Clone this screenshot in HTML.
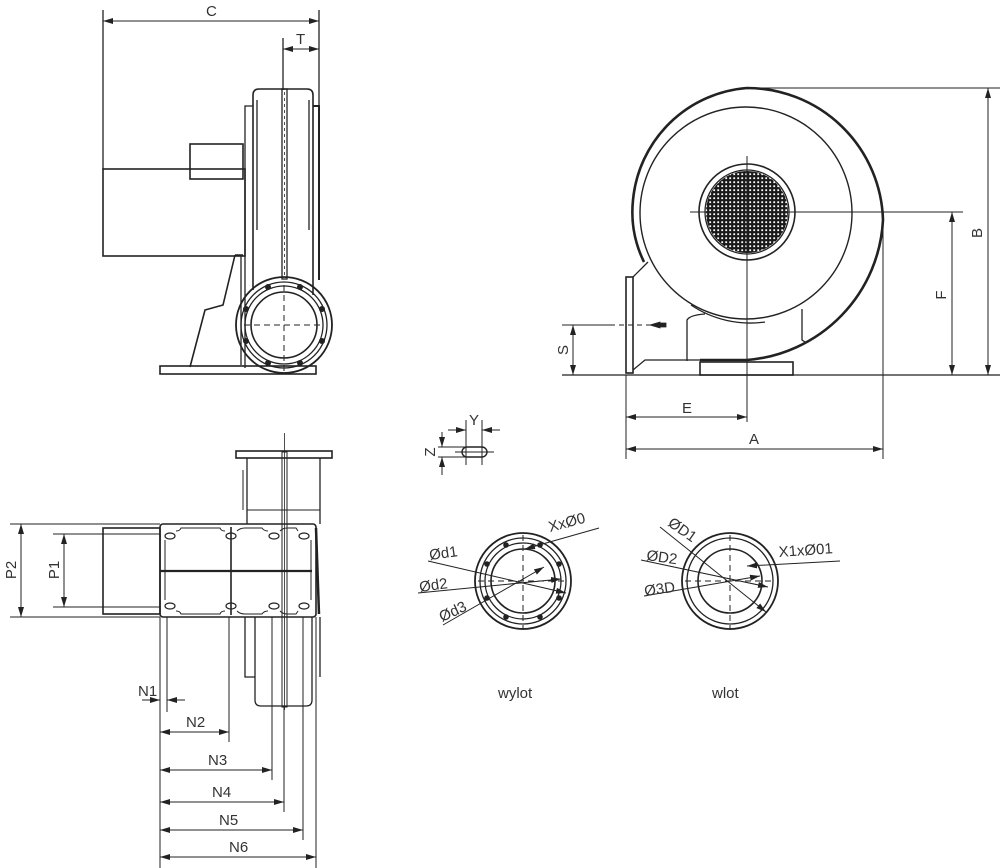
<!DOCTYPE html>
<html><head><meta charset="utf-8"><style>
html,body{margin:0;padding:0;background:#fff;}
svg{display:block;}
text{font-family:"Liberation Sans",sans-serif;font-size:15px;fill:#333;}
</style></head><body>
<svg width="1000" height="868" viewBox="0 0 1000 868" xmlns="http://www.w3.org/2000/svg">
<defs>
<marker id="ar" viewBox="0 0 10 6" refX="10" refY="3" markerWidth="10" markerHeight="6" orient="auto-start-reverse" markerUnits="userSpaceOnUse"><path d="M0,0 L10,3 L0,6 z" fill="#222"/></marker>
<pattern id="mesh" width="4" height="4" patternUnits="userSpaceOnUse"><rect width="4" height="4" fill="#1a1a1a"/><rect x="1.3" y="1.3" width="1.8" height="1.8" fill="#fff"/></pattern>
<clipPath id="gc"><circle cx="747" cy="212" r="41"/></clipPath>
</defs>
<g fill="none" stroke="#222" stroke-width="1.3">

<!-- ===== TOP LEFT VIEW ===== -->
<line x1="103" y1="10" x2="103" y2="170"/>
<line x1="319" y1="10" x2="319" y2="106"/>
<line x1="103" y1="21" x2="319" y2="21" marker-start="url(#ar)" marker-end="url(#ar)" stroke-width="1"/>
<line x1="283" y1="38" x2="283" y2="90"/>
<line x1="283" y1="49" x2="319" y2="49" marker-start="url(#ar)" marker-end="url(#ar)" stroke-width="1"/>
<rect x="103" y="169" width="142" height="87" stroke-width="1.6"/>
<rect x="190" y="144" width="53" height="35" stroke-width="1.6"/>
<path d="M253 290 L253 95 Q253 89 259 89 L307 89 Q313 89 313 95 L313 295" stroke-width="1.6"/>
<path d="M253 106 L245 106 L245 368" />
<path d="M313 106 L319 106 L319 280" stroke-width="2"/>
<line x1="257" y1="100" x2="257" y2="230"/>
<line x1="309" y1="100" x2="309" y2="230"/>
<rect x="282" y="89" width="5" height="190"/>
<line x1="284.5" y1="92" x2="284.5" y2="278" stroke-dasharray="3 3" stroke-width="0.8"/>
<line x1="241" y1="256" x2="241" y2="365"/>
<path d="M235 255 L243 255 M235 255 L223 305 L205 310 L190 367" stroke-width="1.6"/>
<rect x="160" y="366" width="156" height="8" stroke-width="1.6"/>
<circle cx="284" cy="325" r="48" stroke-width="1.8"/>
<circle cx="284" cy="325" r="43"/>
<circle cx="284" cy="325" r="39"/>
<circle cx="284" cy="325" r="33" stroke-width="1.6"/>
<line x1="244" y1="325" x2="324" y2="325" stroke-dasharray="6 4" stroke-width="1"/>
<line x1="284" y1="285" x2="284" y2="374" stroke-dasharray="6 4" stroke-width="1"/>
<g fill="#222" stroke="none">
<circle cx="268" cy="287" r="3"/><circle cx="300" cy="287" r="3"/><circle cx="246" cy="309" r="3"/><circle cx="322" cy="309" r="3"/>
<circle cx="246" cy="341" r="3"/><circle cx="322" cy="341" r="3"/><circle cx="268" cy="363" r="3"/><circle cx="300" cy="363" r="3"/>
</g>

<!-- ===== TOP RIGHT VIEW ===== -->
<path d="M700 360 L747 360 A148 148 0 0 0 883 220 A136 136 0 0 0 747 88 A124 124 0 0 0 633 200 A114 114 0 0 0 644 262" stroke-width="2.6"/>
<circle cx="746" cy="213" r="106" stroke-width="1.4"/>
<path d="M691 305 A106 106 0 0 0 765 322" />
<path d="M648 262 L633 277"/>
<rect x="626" y="277" width="7" height="96" stroke-width="1.6"/>
<path d="M633 370 L645 360 L700 360"/>
<path d="M687 361 L687 320 Q690 315 705 314"/>
<path d="M802 309 L802 340 L805 342"/>
<rect x="700" y="362" width="93" height="13" stroke-width="1.6"/>
<circle cx="747" cy="212" r="48" stroke-width="1.6"/>
<circle cx="747" cy="212" r="42"/>
<rect x="700" y="165" width="94" height="94" fill="url(#mesh)" stroke="none" clip-path="url(#gc)"/>
<line x1="690" y1="212" x2="963" y2="212" stroke-width="1"/>
<line x1="747" y1="156" x2="747" y2="422" stroke-width="1"/>
<line x1="562" y1="375" x2="1000" y2="375" stroke-width="1.2"/>
<line x1="747" y1="88" x2="1000" y2="88" stroke-width="1"/>
<line x1="988" y1="88" x2="988" y2="375" marker-start="url(#ar)" marker-end="url(#ar)" stroke-width="1"/>
<line x1="952" y1="212" x2="952" y2="375" marker-start="url(#ar)" marker-end="url(#ar)" stroke-width="1"/>
<line x1="562" y1="325" x2="610" y2="325" stroke-width="1"/>
<line x1="610" y1="325" x2="660" y2="325" stroke-dasharray="5 4" stroke-width="1"/>
<path d="M650 325 L660 322 L660 328 z M660 323 L666 323 L666 327 L660 327" fill="#222" stroke-width="0.8"/>
<line x1="573" y1="325" x2="573" y2="375" marker-start="url(#ar)" marker-end="url(#ar)" stroke-width="1"/>
<line x1="626" y1="375" x2="626" y2="459" stroke-width="1"/>
<line x1="883" y1="213" x2="883" y2="459" stroke-width="1"/>
<line x1="626" y1="417" x2="747" y2="417" marker-start="url(#ar)" marker-end="url(#ar)" stroke-width="1"/>
<line x1="626" y1="449" x2="883" y2="449" marker-start="url(#ar)" marker-end="url(#ar)" stroke-width="1"/>

<!-- ===== BOTTOM LEFT VIEW ===== -->
<line x1="10" y1="524" x2="160" y2="524" stroke-width="1"/>
<line x1="10" y1="617" x2="160" y2="617" stroke-width="1"/>
<line x1="21" y1="524" x2="21" y2="617" marker-start="url(#ar)" marker-end="url(#ar)" stroke-width="1"/>
<line x1="53" y1="534" x2="160" y2="534" stroke-width="1"/>
<line x1="53" y1="607" x2="160" y2="607" stroke-width="1"/>
<line x1="64" y1="534" x2="64" y2="607" marker-start="url(#ar)" marker-end="url(#ar)" stroke-width="1"/>
<rect x="103" y="528" width="57" height="86" stroke-width="1.6"/>
<rect x="236" y="451" width="96" height="7" stroke-width="1.6"/>
<path d="M247 458 L247 524 M320 458 L320 524"/>
<line x1="243" y1="470" x2="243" y2="510" stroke-width="1"/>
<line x1="247" y1="510" x2="320" y2="510" stroke-width="1"/>
<rect x="160" y="524" width="156" height="93" rx="3" stroke-width="1.6"/>
<path d="M165 540 L165 600 M311 540 L311 600" stroke-width="1"/>
<path d="M176 531 Q180 531 181 528 L220 528 Q221 531 225 531 M237 531 Q240 528 245 528 L262 528 Q264 531 268 531 M280 531 Q283 528 287 528 L296 528 L298 531 M176 611 Q180 611 181 614 L220 614 Q221 611 225 611 M237 611 Q240 614 245 614 L262 614 Q264 611 268 611 M280 611 Q283 614 287 614 L296 614 L298 611" stroke-width="1"/>
<line x1="316" y1="528" x2="319" y2="614" stroke-width="2.5"/>
<line x1="160" y1="571" x2="312" y2="571" stroke-width="2.2"/>
<line x1="231" y1="527" x2="231" y2="615" stroke-width="1.6"/>
<path d="M245 617 L245 677 L255 677 M320 617 L320 677"/>
<path d="M255 617 L255 700 Q255 706 261 706 L306 706 Q312 706 312 700 L312 617"/>
<rect x="282" y="452" width="5" height="255" stroke-width="1"/>
<line x1="284.5" y1="433" x2="284.5" y2="710" stroke-width="0.8"/>
<g stroke-width="1.2">
<ellipse cx="170" cy="536" rx="5" ry="3"/><ellipse cx="231" cy="536" rx="5" ry="3"/><ellipse cx="274" cy="536" rx="5" ry="3"/><ellipse cx="304" cy="536" rx="5" ry="3"/>
<ellipse cx="170" cy="606" rx="5" ry="3"/><ellipse cx="231" cy="606" rx="5" ry="3"/><ellipse cx="274" cy="606" rx="5" ry="3"/><ellipse cx="304" cy="606" rx="5" ry="3"/>
</g>
<g stroke-width="1">
<line x1="160" y1="617" x2="160" y2="868"/>
<line x1="167" y1="617" x2="167" y2="712"/>
<line x1="229" y1="617" x2="229" y2="742"/>
<line x1="272" y1="617" x2="272" y2="780"/>
<line x1="284" y1="706" x2="284" y2="812"/>
<line x1="303" y1="617" x2="303" y2="840"/>
<line x1="316" y1="617" x2="316" y2="868"/>
<line x1="142" y1="700" x2="160" y2="700" marker-end="url(#ar)"/>
<line x1="185" y1="700" x2="167" y2="700" marker-end="url(#ar)"/>
<line x1="160" y1="732" x2="229" y2="732" marker-start="url(#ar)" marker-end="url(#ar)"/>
<line x1="160" y1="770" x2="272" y2="770" marker-start="url(#ar)" marker-end="url(#ar)"/>
<line x1="160" y1="802" x2="284" y2="802" marker-start="url(#ar)" marker-end="url(#ar)"/>
<line x1="160" y1="830" x2="303" y2="830" marker-start="url(#ar)" marker-end="url(#ar)"/>
<line x1="160" y1="857" x2="316" y2="857" marker-start="url(#ar)" marker-end="url(#ar)"/>
</g>

<!-- ===== SLOT ===== -->
<g stroke-width="1">
<line x1="466" y1="420" x2="466" y2="465"/>
<line x1="482" y1="420" x2="482" y2="465"/>
<line x1="448" y1="430" x2="466" y2="430" marker-end="url(#ar)"/>
<line x1="500" y1="430" x2="482" y2="430" marker-end="url(#ar)"/>
<line x1="438" y1="447" x2="475" y2="447"/>
<line x1="438" y1="457" x2="475" y2="457"/>
<line x1="442" y1="432" x2="442" y2="447" marker-end="url(#ar)"/>
<line x1="442" y1="475" x2="442" y2="457" marker-end="url(#ar)"/>
<line x1="455" y1="452" x2="494" y2="452"/>
</g>
<rect x="462" y="447" width="25" height="10" rx="5" stroke-width="1.4"/>

<!-- ===== WYLOT ===== -->
<circle cx="523" cy="581" r="48" stroke-width="1.8"/>
<circle cx="523" cy="581" r="43"/>
<circle cx="523" cy="581" r="38"/>
<circle cx="523" cy="581" r="32" stroke-width="1.6"/>
<line x1="523" y1="535" x2="523" y2="630" stroke-dasharray="6 4" stroke-width="1"/>
<line x1="478" y1="581" x2="568" y2="581" stroke-dasharray="6 4" stroke-width="1"/>
<g fill="#222" stroke="none">
<circle cx="506" cy="545" r="2.8"/><circle cx="540" cy="545" r="2.8"/><circle cx="487" cy="564" r="2.8"/><circle cx="559" cy="564" r="2.8"/>
<circle cx="487" cy="598" r="2.8"/><circle cx="559" cy="598" r="2.8"/><circle cx="506" cy="617" r="2.8"/><circle cx="540" cy="617" r="2.8"/>
</g>
<g stroke-width="1">
<line x1="428" y1="561" x2="566" y2="593" marker-end="url(#ar)"/>
<line x1="418" y1="593" x2="561" y2="579" marker-end="url(#ar)"/>
<line x1="443" y1="625" x2="544" y2="567" marker-end="url(#ar)"/>
<line x1="599" y1="528" x2="525" y2="549" marker-end="url(#ar)"/>
</g>

<!-- ===== WLOT ===== -->
<circle cx="730" cy="581" r="48" stroke-width="1.8"/>
<circle cx="730" cy="581" r="43"/>
<circle cx="730" cy="581" r="32" stroke-width="1.6"/>
<line x1="730" y1="535" x2="730" y2="630" stroke-dasharray="6 4" stroke-width="1"/>
<line x1="685" y1="581" x2="775" y2="581" stroke-dasharray="6 4" stroke-width="1"/>
<g stroke-width="1">
<line x1="660" y1="527" x2="766" y2="612" marker-end="url(#ar)"/>
<line x1="641" y1="560" x2="768" y2="587" marker-end="url(#ar)"/>
<line x1="644" y1="596" x2="760" y2="576" marker-end="url(#ar)"/>
<line x1="840" y1="561" x2="747" y2="566" marker-end="url(#ar)"/>
</g>
</g>

<!-- ===== LABELS ===== -->
<text x="206" y="16">C</text>
<text x="296" y="44">T</text>
<text x="682" y="413">E</text>
<text x="749" y="444">A</text>
<text transform="translate(568,350) rotate(-90)" text-anchor="middle">S</text>
<text transform="translate(946,295) rotate(-90)" text-anchor="middle">F</text>
<text transform="translate(982,233) rotate(-90)" text-anchor="middle">B</text>
<text transform="translate(16,570) rotate(-90)" text-anchor="middle">P2</text>
<text transform="translate(59,570) rotate(-90)" text-anchor="middle">P1</text>
<text x="138" y="696">N1</text>
<text x="186" y="727">N2</text>
<text x="208" y="765">N3</text>
<text x="212" y="797">N4</text>
<text x="219" y="825">N5</text>
<text x="229" y="852">N6</text>
<text x="469" y="425">Y</text>
<text transform="translate(435,452) rotate(-90)" text-anchor="middle">Z</text>
<text x="0" y="0" transform="translate(550,532) rotate(-15)">XxØ0</text>
<text x="0" y="0" transform="translate(430,560) rotate(-8)">Ød1</text>
<text x="0" y="0" transform="translate(420,592) rotate(-8)">Ød2</text>
<text x="0" y="0" transform="translate(442,622) rotate(-25)">Ød3</text>
<text x="0" y="0" transform="translate(667,525) rotate(35)">ØD1</text>
<text x="0" y="0" transform="translate(646,560) rotate(8)">ØD2</text>
<text x="0" y="0" transform="translate(645,596) rotate(-8)">Ø3D</text>
<text x="0" y="0" transform="translate(779,557) rotate(-4)">X1xØ01</text>
<text x="498" y="698" font-size="16">wylot</text>
<text x="712" y="698" font-size="16">wlot</text>
</svg>
</body></html>
